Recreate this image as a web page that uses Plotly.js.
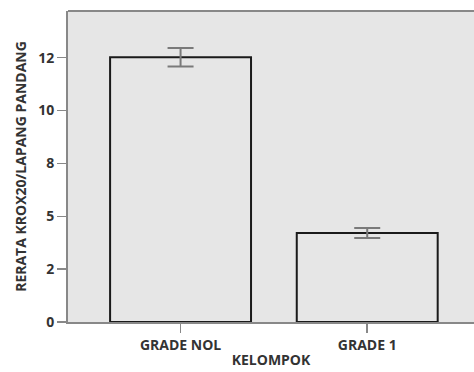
<!DOCTYPE html>
<html><head><meta charset="utf-8">
<script src="https://cdn.plot.ly/plotly-3.0.1.min.js"></script>
<style>html,body{margin:0;padding:0;background:#fff;}#chart{width:474px;height:372px;}</style>
</head><body><div id="chart"></div>
<script>
const categories = ["GRADE NOL", "GRADE 1"];
const means = [12.52, 4.21];
const errors = [0.44, 0.24];
const tickValues = [0, 2.5, 5, 7.5, 10, 12.5];
const tickLabels = ["0", "2", "5", "8", "10", "12"];

const font = {family: "Open Sans, DejaVu Sans, sans-serif", size: 14, color: "#333333", weight: "bold"};

const trace = {
  type: "bar",
  x: [0, 1],
  y: means,
  width: 0.755,
  marker: {color: "#e6e6e6", line: {color: "#1a1a1a", width: 2}},
  error_y: {type: "data", array: errors, visible: true, color: "#7a7a7a", thickness: 2, width: 13},
  hoverinfo: "none"
};

const layout = {
  width: 474, height: 372,
  margin: {l: 68, r: 0, t: 11, b: 50},
  paper_bgcolor: "#ffffff",
  plot_bgcolor: "#e6e6e6",
  showlegend: false,
  font: font,
  xaxis: {
    range: [-0.603, 1.572],
    tickvals: [0, 1],
    ticktext: categories,
    ticks: "outside", ticklen: 9, tickwidth: 1.5, tickcolor: "#888",
    showline: true, linecolor: "#888", linewidth: 2,
    showgrid: false, zeroline: false,
    tickfont: font,
    title: {text: "KELOMPOK", font: font, standoff: 2}
  },
  yaxis: {
    range: [0, 14.71],
    tickvals: tickValues,
    ticktext: tickLabels,
    ticks: "outside", ticklen: 9, tickwidth: 1.5, tickcolor: "#888",
    showline: true, linecolor: "#888", linewidth: 2,
    showgrid: false, zeroline: false,
    tickfont: font,
    title: {text: "RERATA KROX20/LAPANG PANDANG", font: font, standoff: 8}
  },
  shapes: [
    {type: "line", xref: "paper", yref: "paper", x0: 0, x1: 1, y0: 1, y1: 1, line: {color: "#888", width: 2}}
  ]
};

Plotly.newPlot("chart", [trace], layout, {staticPlot: true, displayModeBar: false});
</script></body></html>
